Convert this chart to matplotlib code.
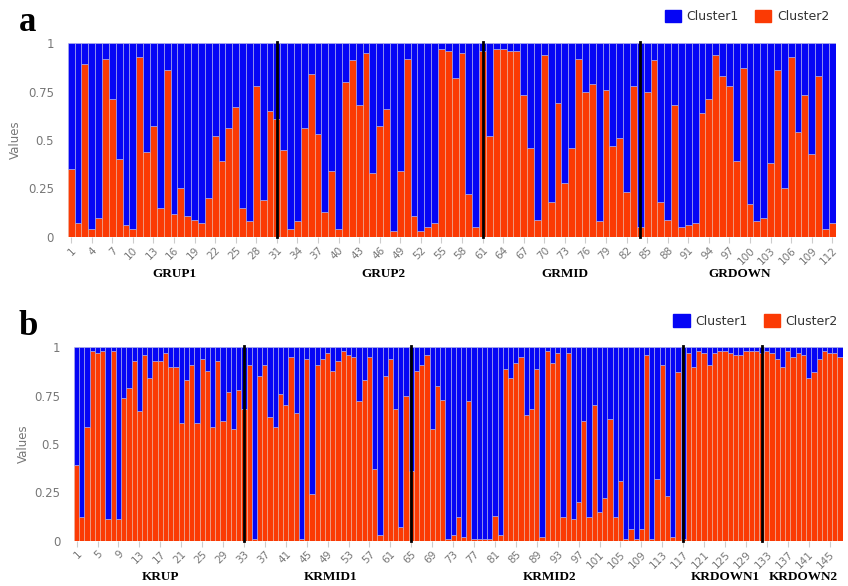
import matplotlib.pyplot as plt
import numpy as np

# Cluster2 share per sample (Cluster1 is the remainder up to 1)
cluster2_a = [0.35, 0.07, 0.89, 0.04, 0.10, 0.92, 0.71, 0.40, 0.06, 0.04,
              0.93, 0.44, 0.57, 0.15, 0.86, 0.12, 0.25, 0.11, 0.09, 0.07,
              0.20, 0.52, 0.39, 0.56, 0.67, 0.15, 0.08, 0.78, 0.19, 0.65,
              0.61, 0.45, 0.04, 0.08, 0.56, 0.84, 0.53, 0.13, 0.34, 0.04,
              0.80, 0.91, 0.68, 0.95, 0.33, 0.57, 0.66, 0.03, 0.34, 0.92,
              0.11, 0.03, 0.05, 0.07, 0.97, 0.96, 0.82, 0.95, 0.22, 0.05,
              0.96, 0.52, 0.97, 0.97, 0.96, 0.96, 0.73, 0.46, 0.09, 0.94,
              0.18, 0.69, 0.28, 0.46, 0.92, 0.75, 0.79, 0.08, 0.76, 0.47,
              0.51, 0.23, 0.78, 0.05, 0.75, 0.91, 0.18, 0.09, 0.68, 0.05,
              0.06, 0.07, 0.64, 0.71, 0.94, 0.83, 0.78, 0.39, 0.87, 0.17,
              0.08, 0.10, 0.38, 0.86, 0.25, 0.93, 0.54, 0.73, 0.43, 0.83,
              0.04, 0.07]
groups_a = ["GRUP1", "GRUP2", "GRMID", "GRDOWN"]
splits_a = [31, 61, 84]

cluster2_b = [0.39, 0.12, 0.59, 0.98, 0.97, 0.98, 0.11, 0.98, 0.11, 0.74,
              0.79, 0.93, 0.67, 0.96, 0.84, 0.93, 0.93, 0.97, 0.90, 0.90,
              0.61, 0.83, 0.91, 0.61, 0.94, 0.88, 0.59, 0.93, 0.62, 0.77,
              0.58, 0.78, 0.68, 0.91, 0.01, 0.85, 0.91, 0.64, 0.59, 0.76,
              0.70, 0.95, 0.66, 0.01, 0.94, 0.24, 0.91, 0.94, 0.97, 0.88,
              0.93, 0.98, 0.96, 0.95, 0.72, 0.83, 0.95, 0.37, 0.03, 0.85,
              0.94, 0.68, 0.07, 0.75, 0.36, 0.88, 0.91, 0.96, 0.58, 0.80,
              0.73, 0.01, 0.03, 0.12, 0.02, 0.72, 0.01, 0.01, 0.01, 0.01,
              0.13, 0.03, 0.89, 0.84, 0.92, 0.95, 0.65, 0.68, 0.89, 0.02,
              0.98, 0.92, 0.97, 0.12, 0.97, 0.11, 0.20, 0.62, 0.12, 0.70,
              0.15, 0.22, 0.63, 0.12, 0.31, 0.01, 0.06, 0.01, 0.06, 0.96,
              0.01, 0.32, 0.91, 0.23, 0.02, 0.87, 0.01, 0.97, 0.90, 0.98,
              0.97, 0.91, 0.97, 0.98, 0.98, 0.97, 0.96, 0.96, 0.98, 0.98,
              0.98, 0.97, 0.98, 0.97, 0.94, 0.90, 0.98, 0.95, 0.97, 0.96,
              0.84, 0.87, 0.94, 0.98, 0.97, 0.97, 0.95]
groups_b = ["KRUP", "KRMID1", "KRMID2", "KRDOWN1", "KRDOWN2"]
splits_b = [33, 65, 117, 132]

BLUE = "#0505f5"
ORANGE = "#fb3a04"
GREY = "#777777"


def panel(fig, rect, c2, groups, splits, step, letter, legend_xy, ypad):
    ax = fig.add_axes(rect)
    c2 = np.array(c2)
    c1 = 1 - c2
    n = len(c2)
    x = np.arange(n)
    ax.bar(x, c2, width=1, color=ORANGE, edgecolor="#e8b8a8", linewidth=0.4)
    ax.bar(x, c1, bottom=c2, width=1, color=BLUE, edgecolor="#b8b8e8", linewidth=0.4)

    # group separators
    for s in splits:
        ax.plot([s - 1, s - 1], [0, 1.005], color="black", lw=2, clip_on=False)

    ax.set_xlim(-0.5, n - 0.5)
    ax.set_ylim(0, 1)
    for sp in ax.spines.values():
        sp.set_visible(False)

    ticks = np.arange(0, n, step)
    ax.set_xticks(ticks)
    ax.set_xticklabels([str(t + 1) for t in ticks], rotation=45, ha="right",
                       rotation_mode="anchor", fontsize=7.5, color=GREY)
    ax.tick_params(axis="x", length=4, color="#cccccc", pad=2)
    ax.set_yticks([0, 0.25, 0.5, 0.75, 1])
    ax.set_yticklabels(["0", "0.25", "0.5", "0.75", "1"], fontsize=8.5, color=GREY)
    ax.tick_params(axis="y", length=0, pad=10)
    ax.set_ylabel("Values", fontsize=8.5, color=GREY, labelpad=ypad)

    # group names under the ticks
    edges = [0] + splits + [n]
    for i, g in enumerate(groups):
        mid = (edges[i] + edges[i + 1]) / 2 - 0.5
        ax.text(mid, -0.19, g, transform=ax.get_xaxis_transform(), ha="center",
                va="center", fontsize=9.5, fontweight="bold", family="Liberation Serif")

    fig.text(0.022, rect[1] + rect[3] + 0.035, letter, fontsize=25, fontweight="bold",
             family="Liberation Serif", va="center")

    h1 = plt.Rectangle((0, 0), 1, 1, color=BLUE)
    h2 = plt.Rectangle((0, 0), 1, 1, color=ORANGE)
    fig.legend([h1, h2], ["Cluster1", "Cluster2"], loc="center right",
               bbox_to_anchor=legend_xy, ncol=2, frameon=False,
               fontsize=9, handlelength=1.3, handleheight=1.2,
               handletextpad=0.45, columnspacing=1.3, labelcolor="#333333",
               borderpad=0, borderaxespad=0)
    return ax


fig = plt.figure(figsize=(8.48, 5.86), dpi=100)
panel(fig, [0.0798, 0.5956, 0.9057, 0.3310], cluster2_a, groups_a, splits_a, 3, "a",
      (0.978, 0.972), 4)
panel(fig, [0.0873, 0.0773, 0.9064, 0.3300], cluster2_b, groups_b, splits_b, 4, "b",
      (0.988, 0.452), 3)

fig.savefig("out.png", dpi=100)
